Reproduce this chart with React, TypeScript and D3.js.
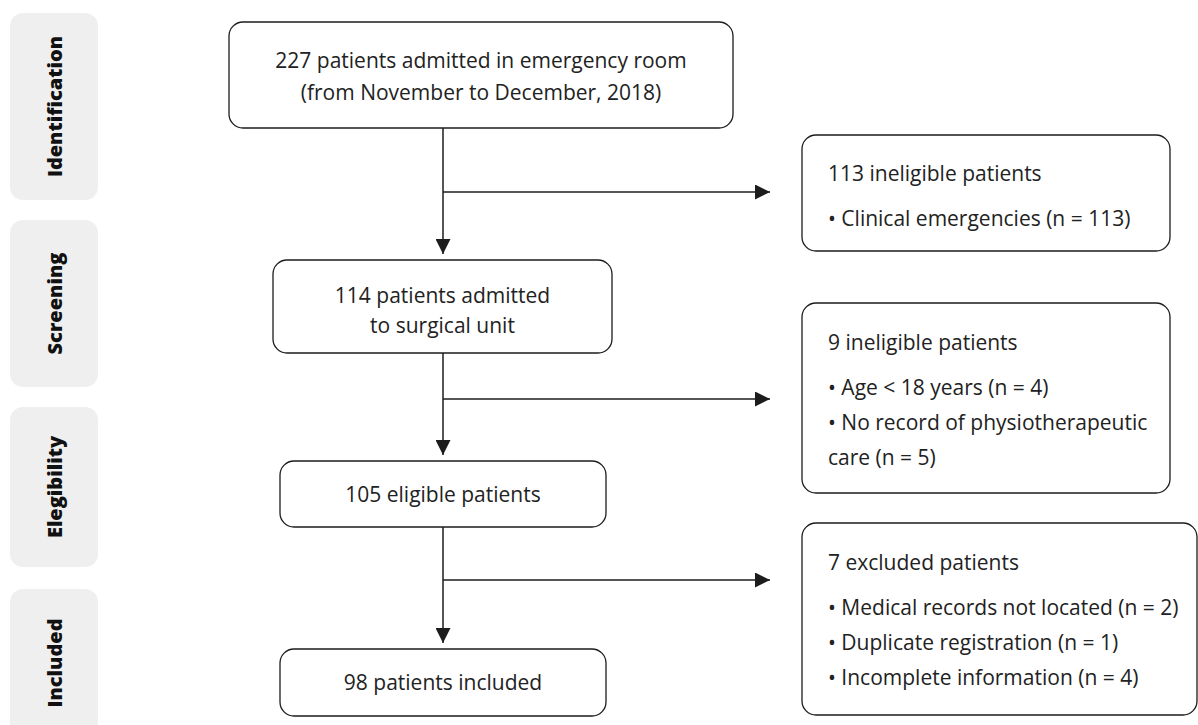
import React, { useEffect, useRef } from 'react';
import * as d3 from 'd3';

// phases shown on the left
const stageLabels = ['Identification', 'Screening', 'Elegibility', 'Included'];

// main flow boxes
const flowCounts = [227, 114, 105, 98];
const flowLines = [
  [`${flowCounts[0]} patients admitted in emergency room`, '(from November to December, 2018)'],
  [`${flowCounts[1]} patients admitted`, 'to surgical unit'],
  [`${flowCounts[2]} eligible patients`],
  [`${flowCounts[3]} patients included`],
];

// side boxes (exclusions)
const exclusionTitles = ['113 ineligible patients', '9 ineligible patients', '7 excluded patients'];
const exclusionItems = [
  ['• Clinical emergencies (n = 113)'],
  ['• Age < 18 years (n = 4)', '• No record of physiotherapeutic', 'care (n = 5)'],
  ['• Medical records not located  (n = 2)', '• Duplicate registration (n = 1)', '• Incomplete information (n = 4)'],
];

const W = 1198;
const H = 725;
const FONT = '"Open Sans", Lato, sans-serif';
const INK = '#1c1c1c';

// layout
const stageBoxes = [
  { y: 13, h: 187 },
  { y: 220, h: 167 },
  { y: 407, h: 160 },
  { y: 589, h: 150 },
];
const flowBoxes = [
  { x: 229, y: 22, w: 504, h: 106, ty: [60, 92] },
  { x: 273, y: 260, w: 339, h: 93, ty: [295, 325] },
  { x: 280, y: 461, w: 326, h: 66, ty: [494] },
  { x: 280, y: 649, w: 326, h: 67, ty: [682] },
];
const sideBoxes = [
  { x: 802, y: 135, w: 368, h: 116, ty: [173, 218] },
  { x: 802, y: 303, w: 368, h: 190, ty: [342, 387, 422, 457] },
  { x: 802, y: 523, w: 395, h: 192, ty: [562, 607, 642, 677] },
];
const branchY = [192, 399, 580];
const spineX = 443;
const arrowEnd = 770;

export default function App() {
  const ref = useRef<SVGSVGElement>(null);

  useEffect(() => {
    const svg = d3.select(ref.current);
    svg.selectAll('*').remove();

    svg.append('defs').append('marker')
      .attr('id', 'head')
      .attr('viewBox', '0 0 10 10')
      .attr('refX', 10)
      .attr('refY', 5)
      .attr('markerUnits', 'userSpaceOnUse')
      .attr('markerWidth', 15)
      .attr('markerHeight', 15)
      .attr('orient', 'auto')
      .append('path')
      .attr('d', 'M0,0L10,5L0,10Z')
      .attr('fill', INK);

    // stage pills
    const stages = svg.append('g').selectAll('g')
      .data(stageLabels)
      .join('g');
    stages.append('rect')
      .attr('x', 10)
      .attr('y', (d, i) => stageBoxes[i].y)
      .attr('width', 88)
      .attr('height', (d, i) => stageBoxes[i].h)
      .attr('rx', 13)
      .attr('fill', '#efefef');
    stages.append('text')
      .attr('transform', (d, i) => `translate(54,${Math.min(stageBoxes[i].y + stageBoxes[i].h / 2, 663)}) rotate(-90)`)
      .attr('text-anchor', 'middle')
      .attr('dominant-baseline', 'central')
      .attr('font-family', FONT)
      .attr('font-weight', 800)
      .attr('font-size', 20)
      .attr('fill', '#111')
      .text(d => d);

    // connectors
    const conn = svg.append('g').attr('stroke', INK).attr('stroke-width', 1.5).attr('fill', 'none');
    flowBoxes.slice(0, -1).forEach((b, i) => {
      const next = flowBoxes[i + 1];
      conn.append('line')
        .attr('x1', spineX).attr('x2', spineX)
        .attr('y1', b.y + b.h).attr('y2', next.y - 6)
        .attr('marker-end', 'url(#head)');
      conn.append('line')
        .attr('x1', spineX).attr('x2', arrowEnd)
        .attr('y1', branchY[i]).attr('y2', branchY[i])
        .attr('marker-end', 'url(#head)');
    });

    // main flow boxes
    const flow = svg.append('g').selectAll('g')
      .data(flowLines)
      .join('g');
    flow.append('rect')
      .attr('x', (d, i) => flowBoxes[i].x)
      .attr('y', (d, i) => flowBoxes[i].y)
      .attr('width', (d, i) => flowBoxes[i].w)
      .attr('height', (d, i) => flowBoxes[i].h)
      .attr('rx', 14)
      .attr('fill', '#fff')
      .attr('stroke', INK)
      .attr('stroke-width', 1.3);
    flow.each(function (lines, i) {
      const b = flowBoxes[i];
      d3.select(this).selectAll('text')
        .data(lines)
        .join('text')
        .attr('x', b.x + b.w / 2)
        .attr('y', (d, j) => b.ty[j])
        .attr('text-anchor', 'middle')
        .attr('dominant-baseline', 'central')
        .attr('font-family', FONT)
        .attr('font-size', 21)
        .attr('fill', '#222')
        .text(d => d);
    });

    // exclusion boxes
    const side = svg.append('g').selectAll('g')
      .data(exclusionTitles)
      .join('g');
    side.append('rect')
      .attr('x', (d, i) => sideBoxes[i].x)
      .attr('y', (d, i) => sideBoxes[i].y)
      .attr('width', (d, i) => sideBoxes[i].w)
      .attr('height', (d, i) => sideBoxes[i].h)
      .attr('rx', 14)
      .attr('fill', '#fff')
      .attr('stroke', INK)
      .attr('stroke-width', 1.3);
    side.each(function (title, i) {
      const b = sideBoxes[i];
      d3.select(this).selectAll('text')
        .data([title, ...exclusionItems[i]])
        .join('text')
        .attr('x', b.x + 26)
        .attr('y', (d, j) => b.ty[j])
        .attr('dominant-baseline', 'central')
        .attr('font-family', FONT)
        .attr('font-size', 21)
        .attr('fill', '#222')
        .text(d => d);
    });
  }, []);

  return (
    <svg ref={ref} width={W} height={H}
      style={{ position: 'absolute', left: 0, top: 0, background: '#fff' }} />
  );
}
